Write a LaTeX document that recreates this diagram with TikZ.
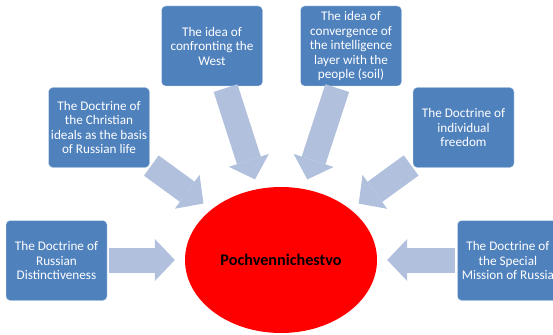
\documentclass[tikz,border=0pt]{standalone}
\usepackage{fontspec}
\setmainfont{Carlito}
\usepackage{xcolor}
\usepackage{tikz}
\usetikzlibrary{
    positioning,
    arrows.meta,
    shapes.geometric
}
\definecolor{boxblue}{RGB}{79,129,189}
\definecolor{arrowblue}{RGB}{176,192,221}
\tikzset{
    doctrine/.style={
        rectangle, draw=white!80!boxblue, thin, fill=boxblue,
        rounded corners=4pt,
        minimum width=101pt, minimum height=80pt,
        inner sep=1pt, align=center, text=white,
        font=\fontsize{13.2}{14.5}\selectfont
    },
    core/.style={
        ellipse, fill=red, inner sep=0pt,
        minimum width=192pt, minimum height=146pt,
        font=\fontsize{16.2}{18}\selectfont\bfseries
    },
    fatarrow/.style={
        draw=arrowblue, line width=25pt,
        -{Triangle[length=20pt, width=42pt, line width=0pt, fill=arrowblue]},
        shorten <=2pt, shorten >=10pt
    }
}

\begin{document}
\begin{tikzpicture}[x=1pt, y=-1pt]

        \useasboundingbox (0,0) rectangle (553,334);

        % Centre
        \node[core] (pochv) at (281,260) {Pochvennichestvo};

        % Doctrines round it
        \node[doctrine] (west) at (212,46) {The idea of\\confronting the\\West};
        \node[doctrine] (soil) at (351,46) {The idea of\\convergence of\\the intelligence\\layer with the\\people (soil)};
        \node[doctrine] (christian) at (99,127.5) {The Doctrine of\\the Christian\\ideals as the basis\\of Russian life};
        \node[doctrine] (freedom) at (463.5,127.5) {The Doctrine of\\individual\\freedom};
        \node[doctrine] (distinct) at (56.5,260.5) {The Doctrine of\\Russian\\Distinctiveness};
        \node[doctrine, right=350pt of distinct] (mission) {The Doctrine of\\the Special\\Mission of Russia};

        % Arrows into the centre
        \draw[fatarrow] (west) -- (pochv);
        \draw[fatarrow] (soil) -- (pochv);
        \draw[fatarrow] (christian) -- (pochv);
        \draw[fatarrow] (freedom) -- (pochv);
        \draw[fatarrow] (distinct.east |- pochv) -- (pochv);
        \draw[fatarrow] (mission.west |- pochv) -- (pochv);

\end{tikzpicture}
\end{document}
